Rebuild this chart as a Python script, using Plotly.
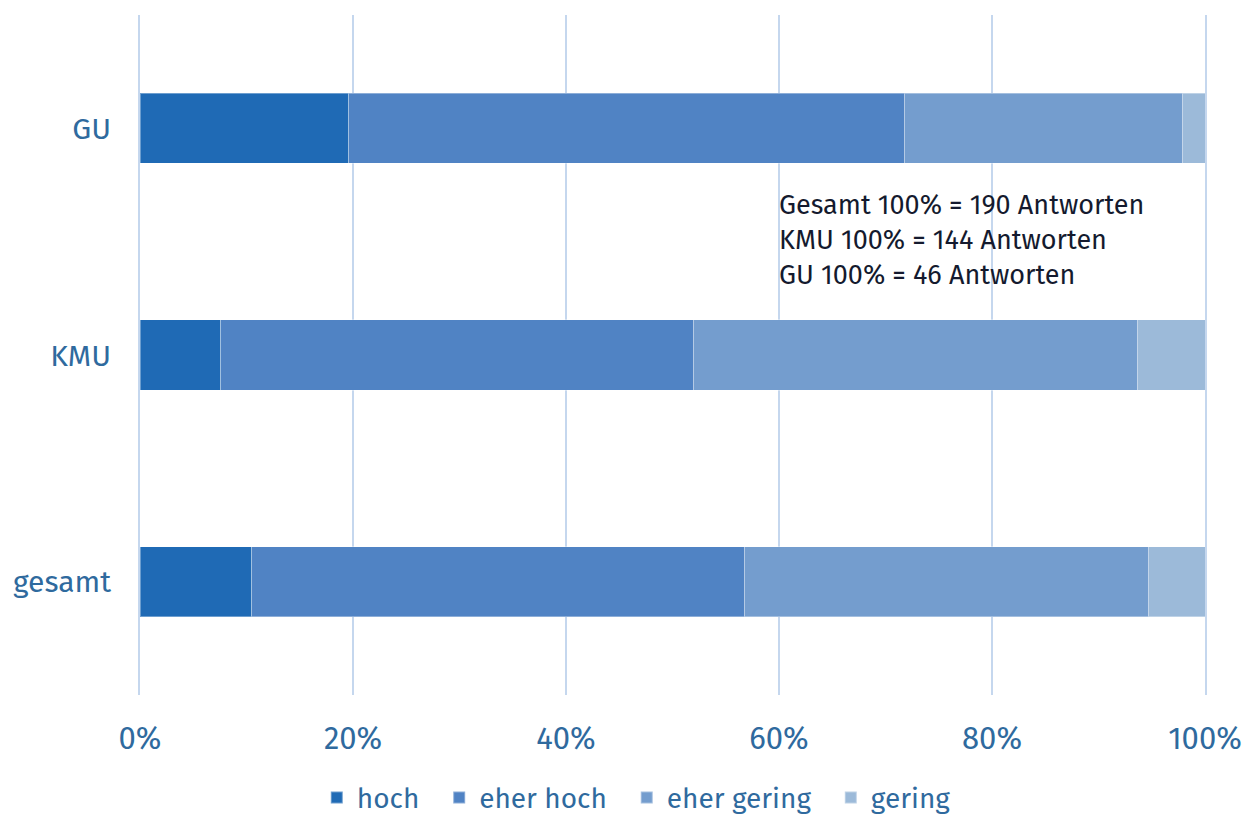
import plotly.graph_objects as go

# Anteile in Prozent je Gruppe (gesamt, KMU, GU)
categories = ["gesamt", "KMU", "GU"]
series_names = ["hoch", "eher hoch", "eher gering", "gering"]
hoch = [10.5, 7.6, 19.6]
eher_hoch = [46.3, 44.4, 52.2]
eher_gering = [37.9, 41.7, 26.1]
gering = [5.3, 6.3, 2.1]
x_ticks = [0, 20, 40, 60, 80, 100]
note_lines = ["Gesamt 100% = 190 Antworten", "KMU 100% = 144 Antworten", "GU 100% = 46 Antworten"]

colors = ["#1F6AB5", "#5083C4", "#749DCE", "#9CBAD9"]
FONT = "'Fira Sans', 'Noto Sans', sans-serif"
TEXT_BLUE = "#2F6A9E"
GRID = "#C5D7EE"

fig = go.Figure()
series = [hoch, eher_hoch, eher_gering, gering]
for i, (name, vals, col) in enumerate(zip(series_names, series, colors)):
    # a little trailing space so the legend items sit further apart
    label = name + ("\u00a0\u00a0" if i < len(series_names) - 1 else "")
    fig.add_trace(go.Bar(
        y=categories,
        x=vals,
        name=label,
        orientation="h",
        marker=dict(color=col, line=dict(color="rgba(255,255,255,0.35)", width=1)),
        hovertemplate=name + ": %{x:.1f}%<extra></extra>",
    ))

fig.add_annotation(
    x=60, y=2, xref="x", yref="y",
    xanchor="left", yanchor="top", yshift=-59, xshift=-2,
    text="<br>".join(note_lines),
    showarrow=False, align="left",
    font=dict(family=FONT, size=27, color="#141A2E"),
)

fig.update_layout(
    barmode="stack",
    bargap=0.69,
    width=1249, height=815,
    paper_bgcolor="white",
    plot_bgcolor="white",
    font=dict(family=FONT, color=TEXT_BLUE),
    margin=dict(l=140, r=44, t=15, b=120, autoexpand=False),
    xaxis=dict(
        range=[0, 100],
        tickvals=x_ticks,
        ticktext=[f"{t}%" for t in x_ticks],
        showgrid=True, gridcolor=GRID, gridwidth=2,
        zeroline=False, showline=False,
        tickfont=dict(size=31, color=TEXT_BLUE),
        ticks="", ticklabelstandoff=22,
        automargin=False,
        fixedrange=True,
    ),
    yaxis=dict(
        range=[-0.5, 2.5],
        showgrid=False, zeroline=False,
        showline=True, linecolor=GRID, linewidth=2, mirror=True,
        tickfont=dict(size=30, color=TEXT_BLUE),
        ticks="", ticklabelstandoff=21,
        automargin=False,
        fixedrange=True,
    ),
    legend=dict(
        orientation="h",
        x=0.466, xanchor="center",
        y=-0.151, yanchor="middle",
        font=dict(size=28, color=TEXT_BLUE),
        itemsizing="constant",
        traceorder="normal",
        itemwidth=30,
    ),
    showlegend=True,
)

# drop the default 8px page margin so the figure fills the window
fig.write_html(
    "out.html",
    config={"displayModeBar": False},
    post_script="document.body.style.margin='0';",
)
